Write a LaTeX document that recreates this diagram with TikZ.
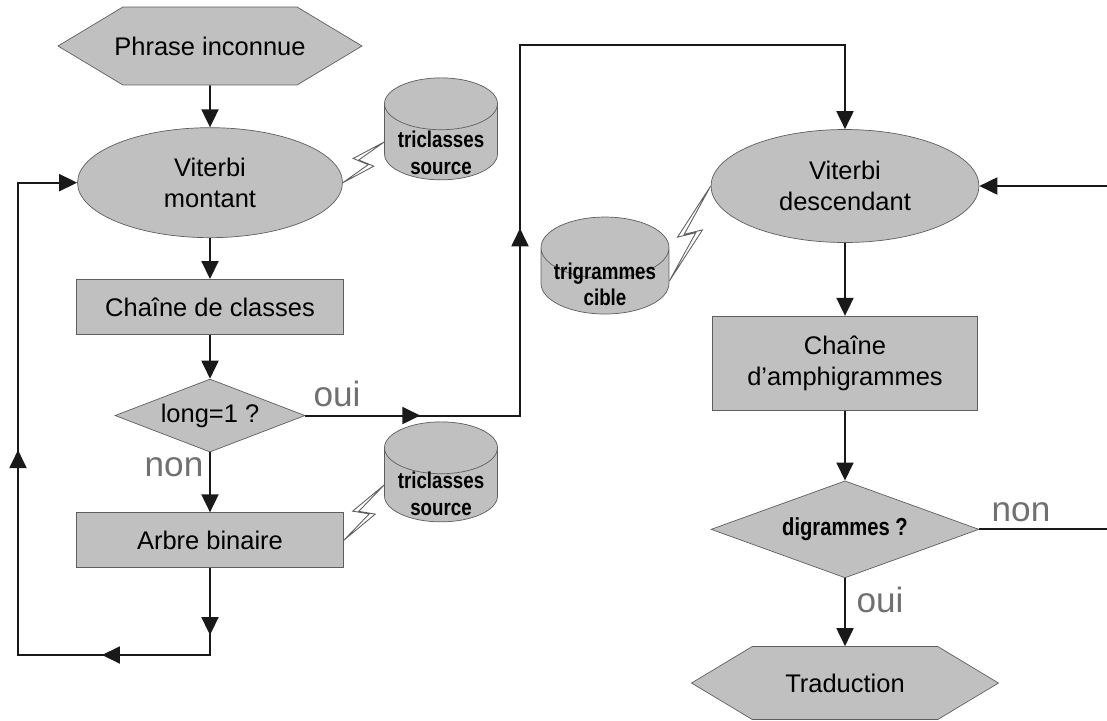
\documentclass[tikz,border=0pt]{standalone}
\usepackage{fontspec}
\setmainfont{Liberation Sans}
\newfontfamily\dbfont[FakeStretch=0.82]{Liberation Sans}
\usetikzlibrary{shapes.geometric,shapes.symbols,arrows.meta,positioning,calc,decorations.markings}
\definecolor{boxgray}{RGB}{192,192,192}
\definecolor{topgray}{RGB}{214,214,214}
\definecolor{edgegray}{RGB}{95,95,95}
\definecolor{labgray}{RGB}{112,112,112}
\definecolor{linecol}{RGB}{25,25,25}

% lightning between two nodes
\newcommand{\bolt}[2]{%
  \draw[boltl] (#1) -- ($(#1)!0.58!(#2)!0.2cm!-90:(#2)$) -- ($(#1)!0.47!(#2)!0.1cm!90:(#2)$) -- (#2)
    -- ($(#1)!0.42!(#2)!0.2cm!90:(#2)$) -- ($(#1)!0.53!(#2)!0.1cm!-90:(#2)$) -- cycle;}
% text of a database, set lower than the middle
\newcommand{\dbtext}[2][-0.38cm]{\raisebox{#1}[0pt][0pt]{\begin{tabular}{@{}c@{}}#2\end{tabular}}}

\begin{document}
\begin{tikzpicture}[
  x=0.02cm, y=-0.02cm, >={Triangle[length=3.6mm,width=3.4mm]},
  base/.style={draw=edgegray,fill=boxgray,align=center,inner sep=0pt,
    font=\fontsize{14.5}{17.5}\selectfont},
  hexb/.style={base,signal,signal to=west and east,signal pointer angle=62},
  ellb/.style={base,ellipse},
  procb/.style={base,rectangle},
  decb/.style={base,diamond},
  dbb/.style={base,cylinder,shape border rotate=90,aspect=0.6,
    cylinder uses custom fill,cylinder body fill=boxgray,cylinder end fill=topgray,
    font=\dbfont\bfseries\fontsize{13}{15}\selectfont},
  lab/.style={text=labgray,font=\fontsize{20}{22}\selectfont,inner sep=0pt},
  line/.style={draw=linecol,line width=1.1pt},
  arrow/.style={line,->},
  boltl/.style={draw=edgegray,line width=0.5pt,line join=miter},
  marks/.style={postaction={decorate},decoration={markings,#1}},
]
\useasboundingbox (0,0) rectangle (1107,721);

% left column
\node[hexb,minimum width=6.04cm,minimum height=1.56cm,inner xsep=-0.17cm] (ph) at (210,46) {Phrase inconnue};
\node[ellb,minimum width=5.3cm,minimum height=2.2cm,below=0.84cm of ph] (vm) {Viterbi\\montant};
\node[procb,minimum width=5.34cm,minimum height=1.1cm,below=0.82cm of vm] (cc) {Chaîne de classes};
\node[decb,minimum width=3.8cm,minimum height=1.46cm,aspect=2.6,below=0.88cm of cc] (q1) {long=1 ?};
\node[procb,minimum width=5.34cm,minimum height=1.1cm,below=1.2cm of q1] (ab) {Arbre binaire};
\node[dbb,minimum width=2.26cm,minimum height=2.04cm] (cs1) at (441,142) {\dbtext{triclasses\\source}};
\node[dbb,minimum width=2.26cm,minimum height=2.0cm] (cs2) at (441,485) {\dbtext[-0.34cm]{triclasses\\source}};

% right column
\node[ellb,minimum width=5.36cm,minimum height=2.26cm] (vd) at (845,186) {Viterbi\\descendant};
\node[procb,minimum width=5.3cm,minimum height=1.88cm,below=1.46cm of vd] (am) {Chaîne\\d'amphigrammes};
\node[decb,minimum width=5.36cm,minimum height=1.94cm,aspect=2.76,below=1.4cm of am,
  font=\dbfont\bfseries\fontsize{14}{16}\selectfont] (q2) {digrammes ?};
\node[hexb,minimum width=6.14cm,minimum height=1.46cm,below=1.36cm of q2] (tr) {Traduction};
\node[dbb,minimum width=2.56cm,minimum height=1.94cm] (tc) at (605,281) {\dbtext[-0.23cm]{trigrammes\\cible}};

\coordinate (tur) at (520,45);
\coordinate (lb) at (18,655);
\coordinate (redge) at (1107,0);

% arrows
\draw[arrow] (ph) -- (vm);
\draw[arrow] (vm) -- (cc);
\draw[arrow] (cc) -- (q1);
\draw[arrow] (q1) -- (ab);
\draw[arrow,marks={mark=at position 2.3cm with {\arrow{>}},mark=at position 8.04cm with {\arrow{>}}}]
  (q1.east) -- (q1.east -| tur) -- (tur) -- (tur -| vd.north) -- (vd.north);
\draw[arrow,marks={mark=at position 1.34cm with {\arrow{>}},mark=at position 3.9cm with {\arrow{>}},
  mark=at position 9.68cm with {\arrow{>}}}]
  (ab.south) -- (ab.south |- lb) -- (lb) -- (lb |- vm.west) -- (vm.west);
\draw[arrow] (vd.east -| redge) -- (vd.east);
\draw[arrow] (vd) -- (am);
\draw[arrow] (am) -- (q2);
\draw[arrow] (q2) -- (tr);
\draw[line] (q2.east) -- (q2.east -| redge);

\node[lab] (oui1) at (337,394) {oui};
\node[lab] (non1) at (174,467) {non};
\node[lab] (non2) at (1021,512) {non};
\node[lab] (oui2) at (880,600) {oui};

% lightning links
\bolt{vm.east}{cs1.west}
\bolt{ab.east}{cs2.west}
\bolt{tc.east}{vd.west}
\end{tikzpicture}
\end{document}
